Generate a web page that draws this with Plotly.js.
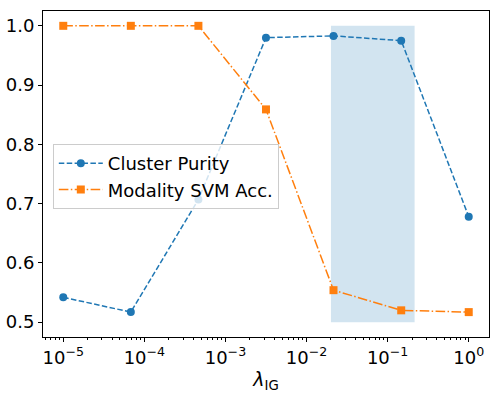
<!DOCTYPE html>
<html>
<head>
<meta charset="utf-8">
<script src="https://cdn.plot.ly/plotly-3.0.1.min.js"></script>
<style>
  html, body { margin: 0; padding: 0; background: #fff; }
  #chart { width: 499px; height: 396px; }
</style>
</head>
<body>
<div id="chart"></div>
<script>
var lambdaIG = [1e-5, 6.81e-5, 4.64e-4, 3.16e-3, 2.15e-2, 0.147, 1];
var clusterPurity = [0.542, 0.517, 0.707, 0.980, 0.983, 0.975, 0.678];
var modalityAcc = [1.0, 1.0, 1.0, 0.859, 0.554, 0.520, 0.517];
var spanX = [0.02, 0.215];
var spanY = [0.5, 1.0];
var yTicks = [0.5, 0.6, 0.7, 0.8, 0.9, 1.0];
var xTicks = [1e-5, 1e-4, 1e-3, 1e-2, 1e-1, 1];
var xTickText = ["10<sup>−5</sup>", "10<sup>−4</sup>", "10<sup>−3</sup>",
                 "10<sup>−2</sup>", "10<sup>−1</sup>", "10<sup>0</sup>"];

var trace1 = {
  x: lambdaIG,
  y: clusterPurity,
  type: "scatter",
  mode: "lines+markers",
  name: "Cluster Purity",
  line: { color: "#1f77b4", width: 1.5, dash: "5.5px,2.4px" },
  marker: { color: "#1f77b4", symbol: "circle", size: 8 }
};

var trace2 = {
  x: lambdaIG,
  y: modalityAcc,
  type: "scatter",
  mode: "lines+markers",
  name: "Modality SVM Acc.",
  line: { color: "#ff7f0e", width: 1.5, dash: "9.6px,2.4px,1.5px,2.4px" },
  marker: { color: "#ff7f0e", symbol: "square", size: 8 }
};

var layout = {
  width: 499,
  height: 396,
  margin: { l: 43, r: 10, t: 11, b: 59 },
  paper_bgcolor: "white",
  plot_bgcolor: "white",
  font: { family: "DejaVu Sans", size: 18, color: "black" },
  showlegend: true,
  legend: {
    x: 0.022, y: 0.592, xanchor: "left", yanchor: "top",
    bgcolor: "rgba(255,255,255,0.8)",
    bordercolor: "#cccccc", borderwidth: 1,
    itemwidth: 44,
    font: { size: 18 }
  },
  xaxis: {
    type: "log",
    range: [-5.25, 0.25],
    tickvals: xTicks,
    ticktext: xTickText,
    showgrid: false,
    zeroline: false,
    showline: true, mirror: true, linecolor: "black", linewidth: 1,
    ticks: "outside", ticklen: 4, tickcolor: "black",
    minor: { ticks: "outside", ticklen: 2, tickcolor: "black", dtick: "D1", showgrid: false },
    title: { text: "<i>λ</i><sub>IG</sub>", font: { size: 19 }, standoff: 6 }
  },
  yaxis: {
    range: [0.475, 1.025],
    tickvals: yTicks,
    tickformat: ".1f",
    showgrid: false,
    zeroline: false,
    showline: true, mirror: true, linecolor: "black", linewidth: 1,
    ticks: "outside", ticklen: 4, tickcolor: "black"
  },
  shapes: [{
    type: "rect", xref: "x", yref: "y", layer: "below",
    x0: spanX[0], x1: spanX[1], y0: spanY[0], y1: spanY[1],
    fillcolor: "rgba(31,119,180,0.2)", line: { width: 0 }
  }]
};

Plotly.newPlot("chart", [trace1, trace2], layout, { staticPlot: true });
</script>
</body>
</html>
